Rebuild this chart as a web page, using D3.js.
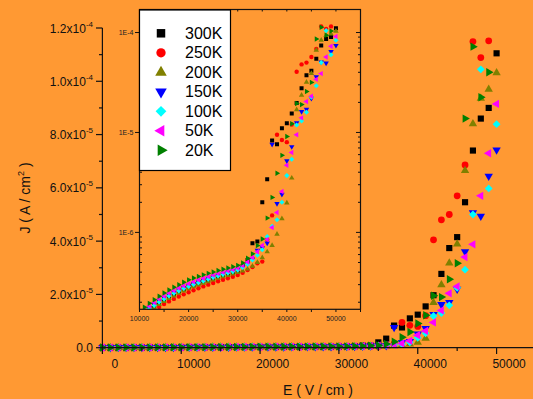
<!DOCTYPE html>
<html>
<head>
<meta charset="utf-8">
<script src="https://cdn.jsdelivr.net/npm/d3@7/dist/d3.min.js"></script>
<style>
  html, body { margin: 0; padding: 0; background: #FF9933; }
  svg { display: block; font-family: "Liberation Sans", Arial, sans-serif; }
</style>
</head>
<body>
<svg id="chart" width="533" height="399"></svg>
<script>
// electric field, V/cm
const fieldE = [0, 1000, 2000, 3000, 4000, 5000, 6000, 7000, 8000, 9000,
  10000, 11000, 12000, 13000, 14000, 15000, 16000, 17000, 18000, 19000,
  20000, 21000, 22000, 23000, 24000, 25000, 26000, 27000, 28000, 29000,
  30000, 31000, 32000, 33000, 34000, 35000, 36000, 37000, 38000, 39000,
  40000, 41000, 42000, 43000, 44000, 45000, 46000, 47000, 48000, 49000, 50000];

// current density, A/cm2 (one value per field point, null = no point)
const j300K = [0.50e-7, 0.57e-7, 0.64e-7, 0.72e-7, 0.80e-7, 0.89e-7, 0.98e-7, 1.08e-7, 1.18e-7, 1.29e-7,
  1.40e-7, 1.54e-7, 1.68e-7, 1.83e-7, 1.98e-7, 2.12e-7, 2.27e-7, 2.42e-7, 2.56e-7, 2.70e-7,
  2.85e-7, 2.98e-7, 3.10e-7, 3.22e-7, 3.34e-7, 3.46e-7, 3.58e-7, 3.70e-7, 3.83e-7, 3.95e-7,
  4.10e-7, 4.60e-7, 5.30e-7, 7.80e-7, 8.10e-7, 2.0e-6, 3.4e-6, 8.3e-6, 7.6e-6, 1.10e-5,
  1.24e-5, 1.55e-5, 1.97e-5, 2.77e-5, 3.74e-5, 4.15e-5, 5.46e-5, 7.40e-5, 8.60e-5, 9.00e-5, 1.105e-4];
const j250K = [0.45e-7, 0.51e-7, 0.58e-7, 0.65e-7, 0.72e-7, 0.80e-7, 0.88e-7, 0.97e-7, 1.06e-7, 1.16e-7,
  1.28e-7, 1.40e-7, 1.53e-7, 1.66e-7, 1.79e-7, 1.92e-7, 2.04e-7, 2.16e-7, 2.28e-7, 2.40e-7,
  2.52e-7, 2.64e-7, 2.76e-7, 2.88e-7, 3.00e-7, 3.12e-7, 3.24e-7, 3.36e-7, 3.48e-7, 3.60e-7,
  3.75e-7, 3.95e-7, 4.20e-7, 4.50e-7, 4.90e-7, 5.10e-7, 8.5e-7, 1.48e-6, 9.5e-6, 8.4e-6,
  8.0e-6, 1.2e-5, 4.05e-5, 4.80e-5, 5.00e-5, 5.70e-5, 6.86e-5, 1.149e-4, 1.089e-4, 1.152e-4, null];
const j200K = [0.48e-7, 0.55e-7, 0.62e-7, 0.70e-7, 0.78e-7, 0.86e-7, 0.95e-7, 1.05e-7, 1.15e-7, 1.25e-7,
  1.36e-7, 1.49e-7, 1.62e-7, 1.76e-7, 1.90e-7, 2.04e-7, 2.18e-7, 2.32e-7, 2.46e-7, 2.60e-7,
  2.73e-7, 2.86e-7, 2.98e-7, 3.10e-7, 3.22e-7, 3.35e-7, 3.48e-7, 3.60e-7, 3.72e-7, 3.85e-7,
  3.98e-7, 4.12e-7, 4.30e-7, 4.60e-7, 5.00e-7, 5.60e-7, 6.4e-7, 7.4e-7, 9.6e-7, 1.37e-6,
  1.97e-6, 3.5e-6, 1.69e-5, 2.36e-5, 3.18e-5, 3.89e-5, 6.65e-5, 8.40e-5, 9.36e-5, 9.70e-5, 1.032e-4];
const j150K = [0.52e-7, 0.59e-7, 0.67e-7, 0.75e-7, 0.84e-7, 0.93e-7, 1.03e-7, 1.13e-7, 1.24e-7, 1.35e-7,
  1.47e-7, 1.61e-7, 1.76e-7, 1.91e-7, 2.06e-7, 2.21e-7, 2.36e-7, 2.51e-7, 2.66e-7, 2.80e-7,
  2.95e-7, 3.08e-7, 3.21e-7, 3.34e-7, 3.47e-7, 3.60e-7, 3.73e-7, 3.86e-7, 3.99e-7, 4.12e-7,
  4.28e-7, 4.50e-7, 4.85e-7, 5.40e-7, 6.60e-7, 7.00e-7, 7.8e-7, 7.6e-6, 1.94e-6, 2.4e-6,
  5.2e-6, 7.2e-6, 1.25e-5, 1.62e-5, 1.70e-5, 2.20e-5, 3.60e-5, 5.07e-5, 4.94e-5, 6.44e-5, 7.42e-5];
const j100K = [0.50e-7, 0.57e-7, 0.65e-7, 0.73e-7, 0.82e-7, 0.91e-7, 1.00e-7, 1.10e-7, 1.21e-7, 1.32e-7,
  1.44e-7, 1.58e-7, 1.72e-7, 1.86e-7, 2.01e-7, 2.16e-7, 2.31e-7, 2.46e-7, 2.60e-7, 2.74e-7,
  2.88e-7, 3.01e-7, 3.14e-7, 3.27e-7, 3.40e-7, 3.53e-7, 3.66e-7, 3.79e-7, 3.92e-7, 4.05e-7,
  4.20e-7, 4.45e-7, 4.80e-7, 5.30e-7, 5.90e-7, 6.70e-7, 9.1e-7, 1.15e-6, 1.34e-6, 2.0e-6,
  3.7e-6, 5.4e-6, 1.19e-5, 1.30e-5, 1.59e-5, 2.25e-5, 2.93e-5, 5.00e-5, 1.045e-4, 5.98e-5, 8.39e-5];
const j50K = [0.54e-7, 0.61e-7, 0.69e-7, 0.78e-7, 0.87e-7, 0.97e-7, 1.07e-7, 1.18e-7, 1.29e-7, 1.41e-7,
  1.53e-7, 1.68e-7, 1.83e-7, 1.99e-7, 2.15e-7, 2.31e-7, 2.47e-7, 2.62e-7, 2.77e-7, 2.92e-7,
  3.07e-7, 3.21e-7, 3.35e-7, 3.48e-7, 3.61e-7, 3.74e-7, 3.87e-7, 4.00e-7, 4.13e-7, 4.26e-7,
  4.40e-7, 4.65e-7, 5.05e-7, 5.60e-7, 6.40e-7, 7.40e-7, 8.5e-7, 1.12e-6, 1.58e-6, 2.57e-6,
  4.7e-6, 6.3e-6, 9.5e-6, 1.40e-5, 2.04e-5, 2.30e-5, 3.40e-5, 3.88e-5, 5.70e-5, 7.30e-5, 9.15e-5];
const j20K = [0.56e-7, 0.64e-7, 0.72e-7, 0.81e-7, 0.91e-7, 1.01e-7, 1.12e-7, 1.23e-7, 1.35e-7, 1.48e-7,
  1.62e-7, 1.78e-7, 1.95e-7, 2.12e-7, 2.30e-7, 2.48e-7, 2.65e-7, 2.82e-7, 2.99e-7, 3.17e-7,
  3.35e-7, 3.50e-7, 3.63e-7, 3.76e-7, 3.89e-7, 4.02e-7, 4.15e-7, 4.28e-7, 4.41e-7, 4.54e-7,
  4.68e-7, 4.95e-7, 5.50e-7, 6.10e-7, 7.40e-7, 8.60e-7, 1.39e-6, 2.24e-6, 3.9e-6, 5.9e-6,
  9.1e-6, 1.22e-5, 1.95e-5, 1.90e-5, 2.57e-5, 3.17e-5, 8.60e-5, 1.13e-4, 9.40e-5, 1.034e-4, null];

const seriesNames = ["300K", "250K", "200K", "150K", "100K", "50K", "20K"];
const seriesValues = [j300K, j250K, j200K, j150K, j100K, j50K, j20K];
const seriesColors = ["#000000", "#FF0000", "#808000", "#0000FF", "#00FFFF", "#FF00FF", "#008000"];
const seriesShapes = ["square", "circle", "triUp", "triDown", "diamond", "triLeft", "triRight"];

const mainYTicks = [0, 2e-5, 4e-5, 6e-5, 8e-5, 1.0e-4, 1.2e-4];
const mainYTickText = [["0.0", ""], ["2.0x10", "-5"], ["4.0x10", "-5"], ["6.0x10", "-5"],
  ["8.0x10", "-5"], ["1.0x10", "-4"], ["1.2x10", "-4"]];
const mainXTicks = [0, 10000, 20000, 30000, 40000, 50000];
const insetXTicks = [10000, 20000, 30000, 40000, 50000];
const insetYTicks = [1e-6, 1e-5, 1e-4];
const insetYTickText = ["1E-6", "1E-5", "1E-4"];

const svg = d3.select("#chart");
const bg = "#FF9933";
svg.append("rect").attr("width", 533).attr("height", 399).attr("fill", bg);

// ---------- main plot ----------
const x = d3.scaleLinear([0, 55000], [102.4, 536]);
const y = d3.scaleLinear([0, 1.2e-4], [347.7, 28]);

const shapeInfo = {
  square:   { type: d3.symbolSquare,   rot: 0,   k: 1.0 },
  circle:   { type: d3.symbolCircle,   rot: 0,   k: 0.95 },
  triUp:    { type: d3.symbolTriangle, rot: 0,   k: 0.8 },
  triDown:  { type: d3.symbolTriangle, rot: 180, k: 0.8 },
  diamond:  { type: d3.symbolSquare,   rot: 45,  k: 0.8 },
  triLeft:  { type: d3.symbolTriangle, rot: -90, k: 0.8 },
  triRight: { type: d3.symbolTriangle, rot: 90,  k: 0.8 }
};

function drawMarkers(g, xs, ys, size) {
  seriesValues.forEach((vals, si) => {
    const info = shapeInfo[seriesShapes[si]];
    const path = d3.symbol().type(info.type).size(size * info.k)();
    const pts = fieldE.map((e, i) => [e, vals[i]]).filter(d => d[1] != null);
    g.append("g").selectAll("path")
      .data(pts)
      .join("path")
      .attr("d", path)
      .attr("fill", seriesColors[si])
      .attr("transform", d => `translate(${xs(d[0])},${ys(d[1])}) rotate(${info.rot})`);
  });
}

const mainData = svg.append("g");
drawMarkers(mainData, x, y, 38);

// axes
const axisCol = "#111";
svg.append("line").attr("x1", 102.4).attr("x2", 102.4).attr("y1", 28).attr("y2", 347.7)
  .attr("stroke", axisCol).attr("stroke-width", 1.2);
svg.append("line").attr("x1", 102.4).attr("x2", 533).attr("y1", 347.7).attr("y2", 347.7)
  .attr("stroke", axisCol).attr("stroke-width", 1.2);

const yMinor = d3.range(0, 1.21e-4, 1e-5);
svg.append("g").selectAll("line").data(yMinor).join("line")
  .attr("x1", 102.4).attr("x2", (d, i) => i % 2 === 0 ? 96 : 99)
  .attr("y1", d => y(d)).attr("y2", d => y(d))
  .attr("stroke", axisCol).attr("stroke-width", 1.2);

const yLab = svg.append("g").attr("font-size", 12).attr("fill", "#111");
mainYTicks.forEach((t, i) => {
  const txt = yLab.append("text").attr("x", 93).attr("y", y(t) + 4.5).attr("text-anchor", "end");
  txt.append("tspan").text(mainYTickText[i][0]);
  if (mainYTickText[i][1]) {
    txt.append("tspan").attr("font-size", 8).attr("dy", -6).text(mainYTickText[i][1]);
  }
});

const xMinor = d3.range(0, 55001, 5000);
svg.append("g").selectAll("line").data(xMinor).join("line")
  .attr("x1", d => x(d)).attr("x2", d => x(d))
  .attr("y1", 347.7).attr("y2", (d, i) => i % 2 === 0 ? 354 : 351)
  .attr("stroke", axisCol).attr("stroke-width", 1.2);

svg.append("g").selectAll("text").data(mainXTicks).join("text")
  .attr("x", d => x(d) + 12.5).attr("y", 367.5)
  .attr("text-anchor", "middle").attr("font-size", 12).attr("fill", "#111")
  .text(d => d);

svg.append("text").attr("x", 318).attr("y", 395).attr("text-anchor", "middle")
  .attr("font-size", 14).attr("fill", "#111").text("E ( V / cm )");

const yTitle = svg.append("text").attr("transform", "translate(30,198) rotate(-90)")
  .attr("text-anchor", "middle").attr("font-size", 14).attr("fill", "#111");
yTitle.append("tspan").text("J ( A / cm");
yTitle.append("tspan").attr("font-size", 9).attr("dy", -6).text("2");
yTitle.append("tspan").attr("dy", 6).text(" )");

// ---------- inset ----------
const ix = d3.scaleLinear([10000, 55000], [139.5, 360.5]);
const iy = d3.scaleLog([1.7e-7, 1.7e-4], [309.3, 9.5]);

svg.append("defs").append("clipPath").attr("id", "insetClip")
  .append("rect").attr("x", 139.5).attr("y", 9.5).attr("width", 221).attr("height", 299.8);

const insetData = svg.append("g").attr("clip-path", "url(#insetClip)");
drawMarkers(insetData, ix, iy, 16);

const inset = svg.append("g").attr("stroke", axisCol).attr("stroke-width", 1);
inset.append("rect").attr("x", 139.5).attr("y", 9.5).attr("width", 221).attr("height", 299.8)
  .attr("fill", "none").attr("stroke-width", 1.2);

const ixMinor = d3.range(10000, 55001, 5000);
inset.append("g").selectAll("line").data(ixMinor).join("line")
  .attr("x1", d => ix(d)).attr("x2", d => ix(d))
  .attr("y1", 309.3).attr("y2", 312);
inset.append("g").selectAll("line").data(ixMinor).join("line")
  .attr("x1", d => ix(d)).attr("x2", d => ix(d))
  .attr("y1", 9.5).attr("y2", 11.5);

const iyMinor = [];
[1e-7, 1e-6, 1e-5, 1e-4].forEach(dec => {
  for (let m = 2; m <= 9; m++) {
    const v = dec * m;
    if (v >= 1.7e-7 && v <= 1.7e-4) iyMinor.push(v);
  }
});
inset.append("g").selectAll("line").data(iyMinor).join("line")
  .attr("x1", 139.5).attr("x2", 142)
  .attr("y1", d => iy(d)).attr("y2", d => iy(d));
inset.append("g").selectAll("line").data(iyMinor).join("line")
  .attr("x1", 360.5).attr("x2", 358)
  .attr("y1", d => iy(d)).attr("y2", d => iy(d));
inset.append("g").selectAll("line").data(insetYTicks).join("line")
  .attr("x1", 135).attr("x2", 139.5)
  .attr("y1", d => iy(d)).attr("y2", d => iy(d));
inset.append("g").selectAll("line").data(insetYTicks).join("line")
  .attr("x1", 360.5).attr("x2", 356)
  .attr("y1", d => iy(d)).attr("y2", d => iy(d));

svg.append("g").selectAll("text").data(insetYTicks).join("text")
  .attr("x", 133.5).attr("y", d => iy(d) + 2.5).attr("text-anchor", "end")
  .attr("font-size", 7).attr("fill", "#222").text((d, i) => insetYTickText[i]);
svg.append("g").selectAll("text").data(insetXTicks).join("text")
  .attr("x", d => ix(d)).attr("y", 321).attr("text-anchor", "middle")
  .attr("font-size", 7).attr("fill", "#222").text(d => d);

// ---------- legend ----------
const legend = svg.append("g");
legend.append("rect").attr("x", 139.5).attr("y", 10).attr("width", 91).attr("height", 160.5)
  .attr("fill", "#fff").attr("stroke", "#000").attr("stroke-width", 1.2);
seriesNames.forEach((name, si) => {
  const ry = 33.3 + si * 19.5;
  const info = shapeInfo[seriesShapes[si]];
  legend.append("path")
    .attr("d", d3.symbol().type(info.type).size(72 * info.k)())
    .attr("fill", seriesColors[si])
    .attr("transform", `translate(161,${ry}) rotate(${info.rot})`);
  legend.append("text").attr("x", 185).attr("y", ry + 5.5)
    .attr("font-size", 16).attr("fill", "#000").text(name);
});
</script>
</body>
</html>
